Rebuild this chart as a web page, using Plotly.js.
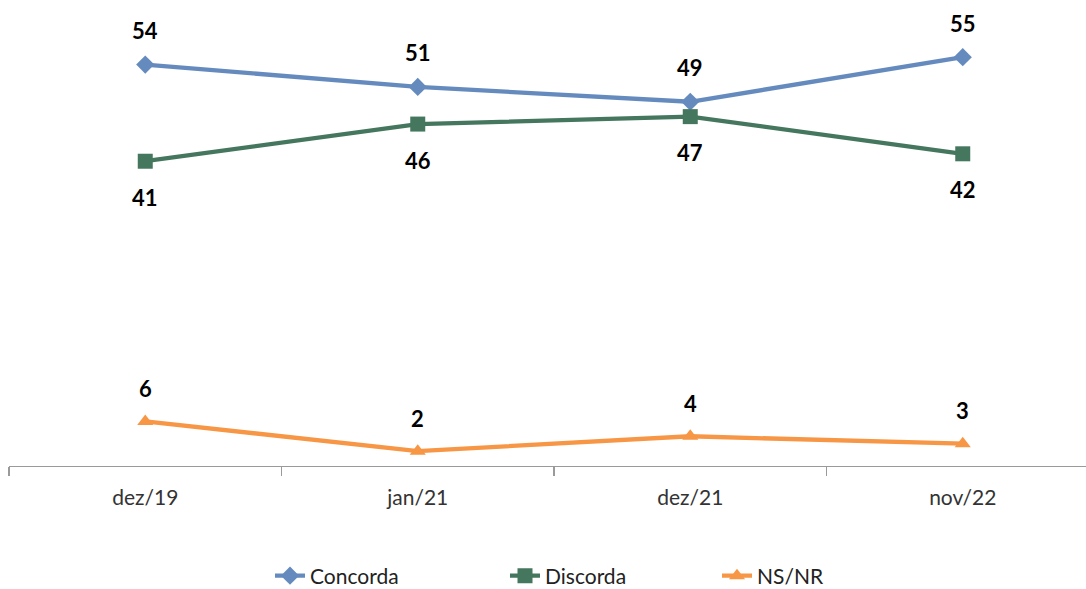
<!DOCTYPE html>
<html>
<head>
<meta charset="utf-8">
<script src="https://cdn.plot.ly/plotly-3.0.1.min.js"></script>
<style>
html,body{margin:0;padding:0;overflow:hidden;background:#fff;width:1086px;height:589px;}
#chart{width:1100px;height:589px;}
</style>
</head>
<body>
<div id="chart"></div>
<script>
const categories = ["dez/19", "jan/21", "dez/21", "nov/22"];
const concorda = [54, 51, 49, 55];
const discorda = [41, 46, 47, 42];
const nsnr = [6, 2, 4, 3];

const seriesNames = ["Concorda", "Discorda", "NS/NR"];
const colors = ["#658BBE", "#44775D", "#F79645"];
const symbols = ["diamond", "square", "triangle-up"];
const labelShift = [34, -36, 33];
const legendIds = ["legend", "legend2", "legend3"];
const legendLeft = [270, 505, 717];
const allValues = [concorda, discorda, nsnr];

const traces = allValues.map((vals, i) => ({
  type: "scatter",
  mode: "lines+markers",
  name: seriesNames[i],
  legend: legendIds[i],
  x: categories,
  y: vals,
  line: {color: colors[i], width: 4.3},
  marker: {color: colors[i], symbol: symbols[i], size: i === 1 ? 15 : 14},
  hoverinfo: "skip"
}));

const annotations = [];
allValues.forEach((vals, i) => {
  vals.forEach((v, j) => {
    annotations.push({
      x: categories[j], y: v, xref: "x", yref: "y",
      text: "<b>" + v + "</b>", showarrow: false,
      yshift: labelShift[i],
      font: {family: "Lato, 'Open Sans', sans-serif", size: 22, color: "#000"}
    });
  });
});

const layout = {
  width: 1100, height: 589,
  margin: {l: 9, r: 1, t: 20, b: 123},
  paper_bgcolor: "#fff", plot_bgcolor: "#fff",
  showlegend: true,
  xaxis: {
    type: "category", range: [-0.5, 3.5],
    showgrid: false, zeroline: false,
    showline: true, linecolor: "#9a9a9a", linewidth: 1.3,
    ticks: "outside", tickson: "boundaries", ticklen: 9, tickcolor: "#9a9a9a", tickwidth: 1.3,
    ticklabelstandoff: 12,
    tickfont: {family: "Lato, 'Open Sans', sans-serif", size: 21, color: "#333"}
  },
  yaxis: {
    range: [0, 60], visible: false, showgrid: false, zeroline: false
  },
  annotations: annotations
};

legendIds.forEach((id, i) => {
  layout[id] = {
    orientation: "h", xref: "container", yref: "container",
    x: legendLeft[i] / 1100, xanchor: "left", y: 1 - 576 / 589, yanchor: "middle",
    bgcolor: "rgba(0,0,0,0)",
    font: {family: "Lato, 'Open Sans', sans-serif", size: 21, color: "#222"}
  };
});

Plotly.newPlot("chart", traces, layout, {displayModeBar: false, staticPlot: true});
</script>
</body>
</html>
